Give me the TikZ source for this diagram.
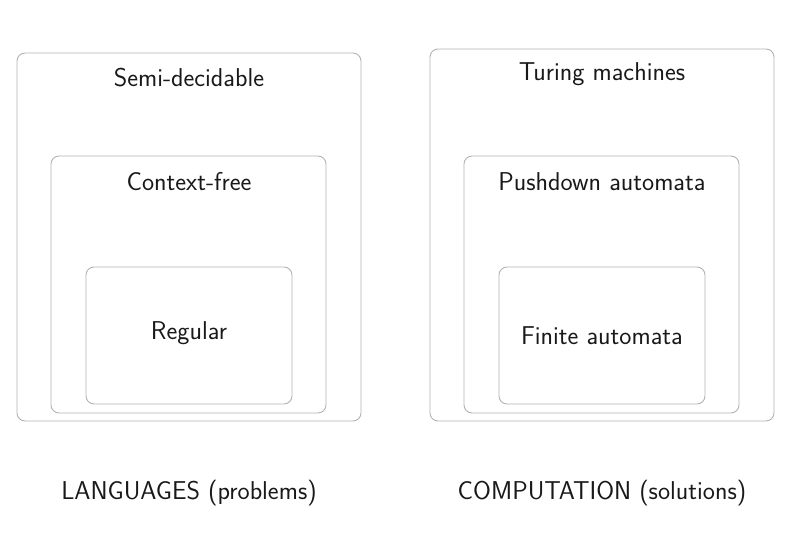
\documentclass[tikz,border=0pt]{standalone}
\begin{document}
\begin{tikzpicture}[x=1pt,y=-1pt,
  setbox/.style={draw=black!30, line width=0.9pt, rounded corners=8pt, inner sep=0pt, outer sep=0pt},
  lbl/.style={font=\sffamily\fontsize{25.8}{30}\selectfont, text=black!90, inner sep=0pt}]
\useasboundingbox (0,0) rectangle (793,533);
% left column
\node[setbox, minimum width=344pt, minimum height=368pt] (semi) at (189,237) {};
\node[setbox, minimum width=275pt, minimum height=257pt] (cf) at (188.5,284.5) {};
\node[setbox, minimum width=206pt, minimum height=137pt] (reg) at (189,335.5) {};
\node[lbl] (tsemi) at (189,78) {Semi-decidable};
\node[lbl] (tcf) at (189,182) {Context-free};
\node[lbl] (treg) at (189,333) {Regular};
% right column
\node[setbox, minimum width=344pt, minimum height=372pt] (tm) at (602,235) {};
\node[setbox, minimum width=275pt, minimum height=257pt] (pda) at (601.5,284.5) {};
\node[setbox, minimum width=206pt, minimum height=137pt] (fa) at (602,335.5) {};
\node[lbl] (ttm) at (602,74) {Turing machines};
\node[lbl] (tpda) at (602,182) {Pushdown automata};
\node[lbl] (tfa) at (602,336) {Finite automata};
% captions
\node[lbl] (lang) at (189,493) {LANGUAGES (problems)};
\node[lbl] (comp) at (602,493) {COMPUTATION (solutions)};
\end{tikzpicture}
\end{document}
